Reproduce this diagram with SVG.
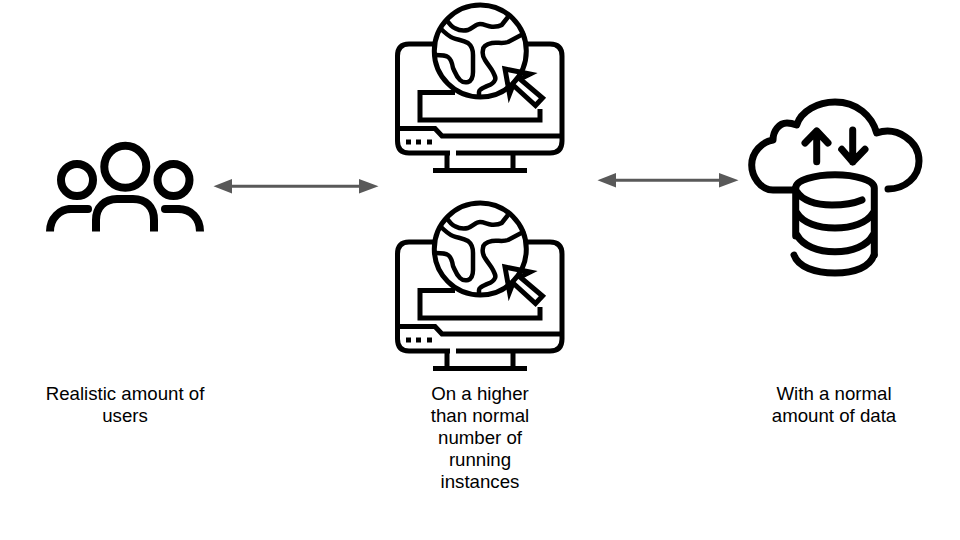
<svg xmlns="http://www.w3.org/2000/svg" xmlns:xlink="http://www.w3.org/1999/xlink" width="960" height="540" viewBox="0 0 960 540">
<style>
.i{fill:none;stroke:#000;stroke-width:5}
.l{fill:none;stroke:#000;stroke-width:4.500;stroke-linejoin:round}
.r{fill:none;stroke:#000;stroke-width:7;stroke-linecap:round;stroke-linejoin:round}
.p{fill:none;stroke:#000;stroke-width:8}
.pr{fill:none;stroke:#000;stroke-width:8;stroke-linecap:round}
.c{fill:none;stroke:#595959;stroke-width:3}
.h{fill:#595959}
text{font-family:"Liberation Sans",Arial,sans-serif;font-size:18.670px;fill:#000;text-anchor:middle}
</style>
<defs>
<g id="server">
<path class="i" d="M434 44H409Q397.500 44 397.500 56V141Q397.500 153 409 153H450M456 153H550Q562 153 562 141V56Q562 44 550 44H526"/>
<path class="i" d="M397.500 128.500H435L442 136H562"/>
<path class="i" d="M447 154V170M513 154V170M433 170.500H527"/>
<path class="i" d="M455 92.500H420V120H540V109"/>
<circle class="i" cx="480.300" cy="51" r="46"/>
<path class="l" d="M446.700 20C450 25 452 27 455 28.300C460 31 464 31 468 30C473 28 476 24 480 24C484 24 487 26 491.700 26.700C497 27 500 26 501.700 25L508 17"/>
<path class="l" d="M440 28C444 32 448 36 453 38C458 40 463 40 468 43C472 46 473 50 473 55V72C473 77 471 81 468 82C464 83 462 82 460 80C456 76 455 72 453 68C452 62 451 59 448 57C445 55 441 55 436 55"/>
<path class="l" d="M525 33L508 42C503 44 497 42 492 43C487 44 483 46 483 50C482 54 483 57 485 60C488 65 491 68 493 72C495 76 496 78 495 80C493 85 489 85 485 87C481 89 479 90 479 92V98"/>
<path class="i" d="M505 69L530 74L520 79L542.500 98L535.500 105.500L513 85L509.500 94Z"/>
<rect x="406" y="139.500" width="5" height="5"/>
<rect x="416" y="139.500" width="5" height="5"/>
<rect x="427" y="139.500" width="5" height="5"/>
</g>
</defs>
<g id="connectors">
<path class="c" d="M230 186.300H361"/>
<path class="h" d="M213.500 186.300L232 179V193.500Z"/>
<path class="h" d="M378.500 186.300L359 179V193.500Z"/>
<path class="c" d="M614 180.300H721"/>
<path class="h" d="M597.500 180.300L616 173V187.500Z"/>
<path class="h" d="M738.500 180.300L719 173V187.500Z"/>
</g>
<g id="users">
<circle class="p" cx="125.300" cy="166.700" r="21"/>
<circle class="p" cx="77" cy="180" r="16"/>
<circle class="p" cx="173.500" cy="180" r="16"/>
<path class="p" d="M96 231.500V220C96 207 105 199 117 199H133C146 199 154 207 154 220V231.500"/>
<path class="p" d="M50 231.500C50 218 60 209 71 209H75"/>
<path class="pr" d="M70 209H88"/>
<path class="pr" d="M165 209H178"/>
<path class="p" d="M175 209H178C191 209 200 218 200 231.500"/>
<text x="125" y="400">Realistic amount of</text>
<text x="125" y="422">users</text>
</g>
<g id="server-top"><use xlink:href="#server" href="#server"/></g>
<g id="server-bottom"><use xlink:href="#server" href="#server" y="198"/>
<text x="480" y="400">On a higher</text>
<text x="480" y="422">than normal</text>
<text x="480" y="444">number of</text>
<text x="480" y="466">running</text>
<text x="480" y="488">instances</text>
</g>
<g id="data">
<path class="r" d="M795 190H773C760 190 751.700 176 751.700 165C751.700 152 762 142 773 140C773 131 779 123 787 123C791 123 794 124 796.700 125C801 111 818 102 835 102C857 102 872 116 876.700 133C897 126 919 141 919 161C919 177 905 189 888 189"/>
<path class="r" d="M816.700 161.700V131M805 143L816.700 131L828 143"/>
<path class="r" d="M852.700 130V162M841.700 149.300L852.700 162L865 149.300"/>
<path class="r" d="M795.700 188C795.700 180 815 174.700 835 174.700C855 174.700 874.300 180 874.300 188V255"/>
<path class="r" d="M795.700 188V236M797 191.700C802 200 815 205 832 205C845 205 855 203 862 200"/>
<path class="r" d="M797 213C803 223 818 228 835 228C852 228 867 223 873 213"/>
<path class="r" d="M797 235C803 246 818 251.700 835 251.700C852 251.700 867 246 873 235"/>
<path class="r" d="M794 255C798 267 815 273 835 273C855 273 870 267 874 255"/>
<text x="834" y="400">With a normal</text>
<text x="834" y="422">amount of data</text>
</g>
</svg>
